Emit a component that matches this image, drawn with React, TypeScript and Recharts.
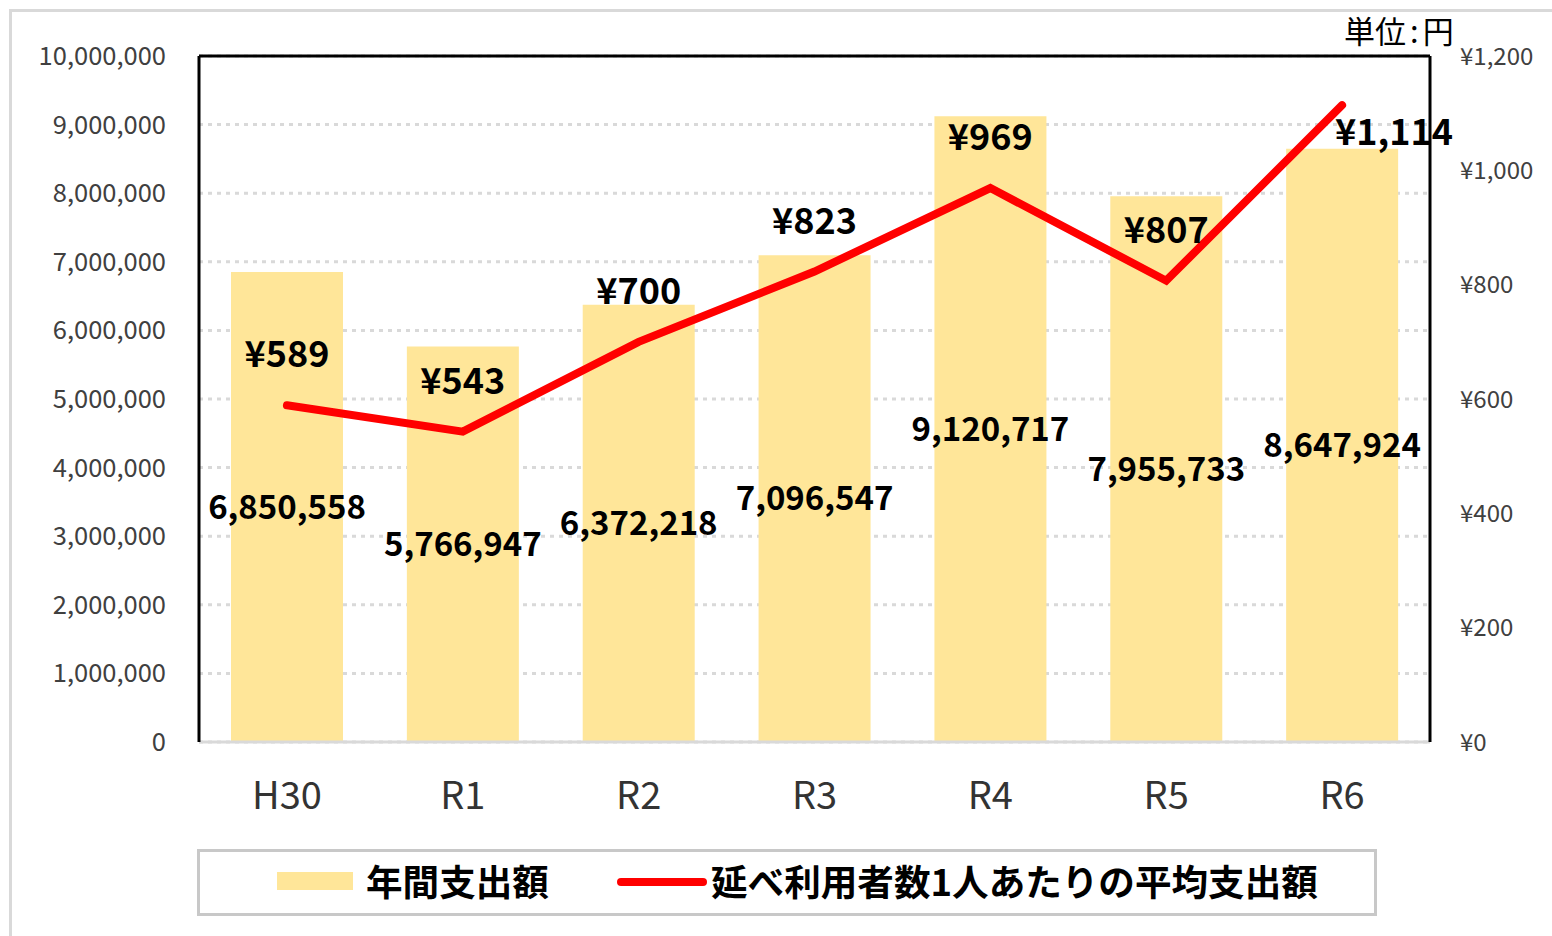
import React from "react";
import {
  ComposedChart,
  Bar,
  Line,
  XAxis,
  YAxis,
  CartesianGrid,
  LabelList,
  ReferenceLine,
  Legend,
} from "recharts";

const categories = ["H30", "R1", "R2", "R3", "R4", "R5", "R6"];
const annualSpending = [6850558, 5766947, 6372218, 7096547, 9120717, 7955733, 8647924];
const avgPerUser = [589, 543, 700, 823, 969, 807, 1114];
const leftTicks = [0, 1000000, 2000000, 3000000, 4000000, 5000000, 6000000, 7000000, 8000000, 9000000, 10000000];
const rightTicks = [0, 200, 400, 600, 800, 1000, 1200];

const seriesNames = ["年間支出額", "延べ利用者数1人あたりの平均支出額"];

const data = categories.map((c, i) => ({
  name: c,
  spend: annualSpending[i],
  avg: avgPerUser[i],
}));

const FONT = "'Noto Sans CJK JP', 'Noto Sans', sans-serif";
const BAR_COLOR = "#FFE699";
const LINE_COLOR = "#FF0000";

const fmtNum = (v: number) => v.toLocaleString("en-US");
const fmtYen = (v: number) => "¥" + v.toLocaleString("en-US");

const LineLabel = (props: any) => {
  const { x, y, value, index } = props;
  const last = index === data.length - 1;
  const tx = last ? x + 52 : x;
  const ty = last ? y + 24 : y - 54;
  return (
    <text
      x={tx}
      y={ty}
      textAnchor="middle"
      dominantBaseline="central"
      fontFamily={FONT}
      fontWeight={700}
      fontSize={36}
      fill="#000"
    >
      {fmtYen(value)}
    </text>
  );
};

const LegendContent = () => (
  <div
    style={{
      position: "relative",
      width: 1180,
      height: 67,
      boxSizing: "border-box",
      border: "3px solid #c8c8c8",
      background: "#fff",
      fontFamily: FONT,
      fontWeight: 700,
      fontSize: 36.6,
      color: "#000",
    }}
  >
    <div style={{ position: "absolute", left: 77, top: 20, width: 76, height: 18, background: BAR_COLOR }} />
    <div style={{ position: "absolute", left: 166, top: -2, height: 61, lineHeight: "61px", whiteSpace: "nowrap" }}>
      {seriesNames[0]}
    </div>
    <svg style={{ position: "absolute", left: 415, top: 18 }} width={96} height={24}>
      <line x1={6} y1={12} x2={88} y2={12} stroke={LINE_COLOR} strokeWidth={8} strokeLinecap="round" />
    </svg>
    <div style={{ position: "absolute", left: 511, top: -2, height: 61, lineHeight: "61px", whiteSpace: "nowrap" }}>
      {seriesNames[1]}
    </div>
  </div>
);

export default function App() {
  return (
    <div
      style={{
        position: "fixed",
        left: 0,
        top: 0,
        width: 1552,
        height: 936,
        overflow: "hidden",
        background: "#fff",
        fontFamily: FONT,
      }}
    >
      <div
        style={{
          position: "absolute",
          left: 9,
          top: 9,
          width: 3000,
          height: 3000,
          border: "3px solid #d9d9d9",
        }}
      />
      <div
        style={{
          position: "absolute",
          left: 1344,
          top: 10,
          fontSize: 31,
          lineHeight: "40px",
          color: "#000",
          whiteSpace: "nowrap",
        }}
      >
        単位<span style={{ margin: "0 4px" }}>:</span>円
      </div>
      <div style={{ position: "absolute", left: 0, top: 0 }}>
        <ComposedChart
          width={1552}
          height={936}
          data={data}
          margin={{ top: 56, right: 0, bottom: 134, left: 0 }}
        >
          <CartesianGrid
            yAxisId="left"
            vertical={false}
            stroke="#d9d9d9"
            strokeWidth={3}
            strokeDasharray="4 5"
          />
          <XAxis
            dataKey="name"
            height={60}
            axisLine={{ stroke: "#d9d9d9", strokeWidth: 3 }}
            tickLine={false}
            tickSize={0}
            tickMargin={40}
            tick={{ fontSize: 38, fill: "#333", fontFamily: FONT }}
          />
          <YAxis
            yAxisId="left"
            orientation="left"
            width={199}
            domain={[0, 10000000]}
            ticks={leftTicks}
            interval={0}
            tickFormatter={fmtNum}
            axisLine={{ stroke: "#000", strokeWidth: 3 }}
            tickLine={false}
            tickSize={0}
            tickMargin={33}
            tick={{ fontSize: 25.5, fill: "#404040", fontFamily: FONT }}
          />
          <YAxis
            yAxisId="right"
            orientation="right"
            width={122}
            domain={[0, 1200]}
            ticks={rightTicks}
            interval={0}
            tickFormatter={fmtYen}
            axisLine={{ stroke: "#000", strokeWidth: 3 }}
            tickLine={false}
            tickSize={0}
            tickMargin={30}
            tick={{ fontSize: 24, fill: "#404040", fontFamily: FONT }}
          />
          <ReferenceLine yAxisId="left" y={10000000} stroke="#000" strokeWidth={3} />
          <Bar
            yAxisId="left"
            dataKey="spend"
            name={seriesNames[0]}
            fill={BAR_COLOR}
            barSize={112}
            isAnimationActive={false}
          >
            <LabelList
              dataKey="spend"
              position="center"
              formatter={(v: any) => fmtNum(Number(v))}
              style={{ fontSize: 33, fontWeight: 700, fill: "#000", fontFamily: FONT }}
            />
          </Bar>
          <Line
            yAxisId="right"
            dataKey="avg"
            name={seriesNames[1]}
            type="linear"
            stroke={LINE_COLOR}
            strokeWidth={8}
            strokeLinecap="round"
            dot={false}
            activeDot={false}
            isAnimationActive={false}
          >
            <LabelList dataKey="avg" content={<LineLabel />} />
          </Line>
          <Legend
            layout="horizontal"
            verticalAlign="middle"
            align="center"
            content={<LegendContent />}
            wrapperStyle={{ position: "absolute", left: 197, top: 849, width: 1180, height: 67 }}
          />
        </ComposedChart>
      </div>
    </div>
  );
}
